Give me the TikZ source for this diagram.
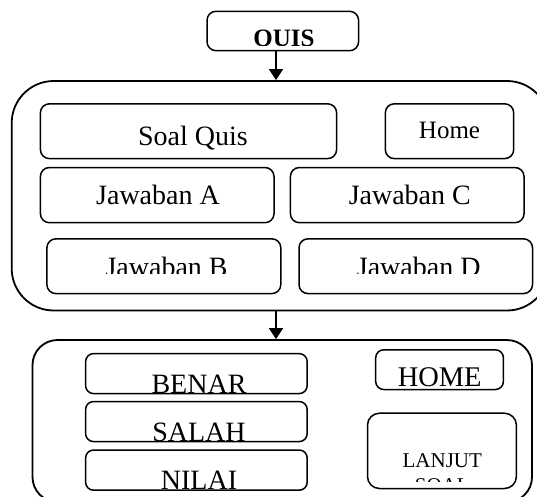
\documentclass[tikz,border=0pt]{standalone}
\usepackage{fontspec}
\setmainfont{Liberation Serif}
\usetikzlibrary{arrows.meta}
\begin{document}
\begin{tikzpicture}[x=1pt,y=-1pt,
  bigbox/.style={draw, line width=1.8pt, inner sep=0pt},
  smallbox/.style={draw, line width=1.5pt, rounded corners=9pt, inner sep=0pt},
  lbl/.style={anchor=base, inner sep=0pt},
  big/.style={font=\fontsize{28}{32}\selectfont},
  link/.style={line width=1.6pt, -{Triangle[width=14pt,length=11pt]}}]
\useasboundingbox (0,0) rectangle (537,496);
\clip (0,0) rectangle (537,496);

% top box
\node[smallbox, minimum width=151.6pt, minimum height=39.4pt] (quis) at (282.8,31) {};
\begin{scope}
  \clip (207,11.3) rectangle (358.6,45.3);
  \node[lbl, font=\fontsize{25}{30}\selectfont\bfseries] (tquis) at (284,46.5) {QUIS};
\end{scope}

% first container
\node[bigbox, rounded corners=42pt, minimum width=537.3pt, minimum height=229.5pt] (box1) at (280.35,195.75) {};
\node[smallbox, minimum width=296.2pt, minimum height=54.8pt] (soal) at (188.5,131.2) {};
\node[lbl, big] (tsoal) at (193,145.5) {Soal Quis};
\node[smallbox, minimum width=128.4pt, minimum height=54.8pt] (home) at (449.5,131.2) {};
\node[lbl, font=\fontsize{25}{30}\selectfont] (thome) at (449.5,138.7) {Home};

\node[smallbox, minimum width=233.6pt, minimum height=55.2pt] (ja) at (157.2,195.1) {};
\node[lbl, big] (tja) at (158,204.5) {Jawaban A};
\node[smallbox, minimum width=233.6pt, minimum height=55.2pt] (jc) at (407.2,195.1) {};
\node[lbl, big] (tjc) at (409.8,204.5) {Jawaban C};

\node[smallbox, minimum width=233.9pt, minimum height=54.8pt] (jb) at (163.85,266.2) {};
\begin{scope}
  \clip (47,239) rectangle (280,273.5);
  \node[lbl, big] (tjb) at (166.6,276) {Jawaban B};
\end{scope}
\node[smallbox, minimum width=233.5pt, minimum height=54.8pt] (jd) at (415.75,266.2) {};
\begin{scope}
  \clip (299,239) rectangle (532,273.5);
  \node[lbl, big] (tjd) at (418.7,276.3) {Jawaban D};
\end{scope}

% second container
\node[bigbox, rounded corners=25pt, minimum width=499.5pt, minimum height=162pt] (box2) at (282.25,421) {};

\node[smallbox, rounded corners=8pt, minimum width=221.6pt, minimum height=40pt] (benar) at (196.4,373.6) {};
\begin{scope}
  \clip (86,354) rectangle (307,392.6);
  \node[lbl, big] (tbenar) at (199,393.3) {BENAR};
\end{scope}
\node[smallbox, rounded corners=8pt, minimum width=221.6pt, minimum height=40.1pt] (salah) at (196.4,421.55) {};
\begin{scope}
  \clip (86,402) rectangle (307,440.5);
  \node[lbl, big] (tsalah) at (199,441.2) {SALAH};
\end{scope}
\node[smallbox, rounded corners=8pt, minimum width=221.6pt, minimum height=40.2pt] (nilai) at (196.4,470.1) {};
\begin{scope}
  \clip (86,450) rectangle (307,489);
  \node[lbl, big] (tnilai) at (199,489.2) {NILAI};
\end{scope}

\node[smallbox, rounded corners=8pt, minimum width=127.7pt, minimum height=39.7pt] (homeb) at (439.55,369.65) {};
\node[lbl, font=\fontsize{28.5}{32}\selectfont] (thomeb) at (439.7,386.8) {HOME};

\node[smallbox, rounded corners=12pt, minimum width=148.9pt, minimum height=75.3pt] (lanjut) at (441.95,450.85) {};
\begin{scope}
  \clip (368,414) rectangle (516,481);
  \node[lbl, font=\fontsize{21}{25}\selectfont] (tlanjut) at (442.3,467.3) {LANJUT};
  \node[lbl, font=\fontsize{21}{25}\selectfont] (tsoal2) at (442.3,492.3) {SOAL};
\end{scope}

% connectors
\coordinate (ax) at ([xshift=-6.8pt]quis.south);
\draw[link] (ax) -- (ax |- box1.north);
\draw[link] (ax |- box1.south) -- (ax |- box2.north);
\end{tikzpicture}
\end{document}
